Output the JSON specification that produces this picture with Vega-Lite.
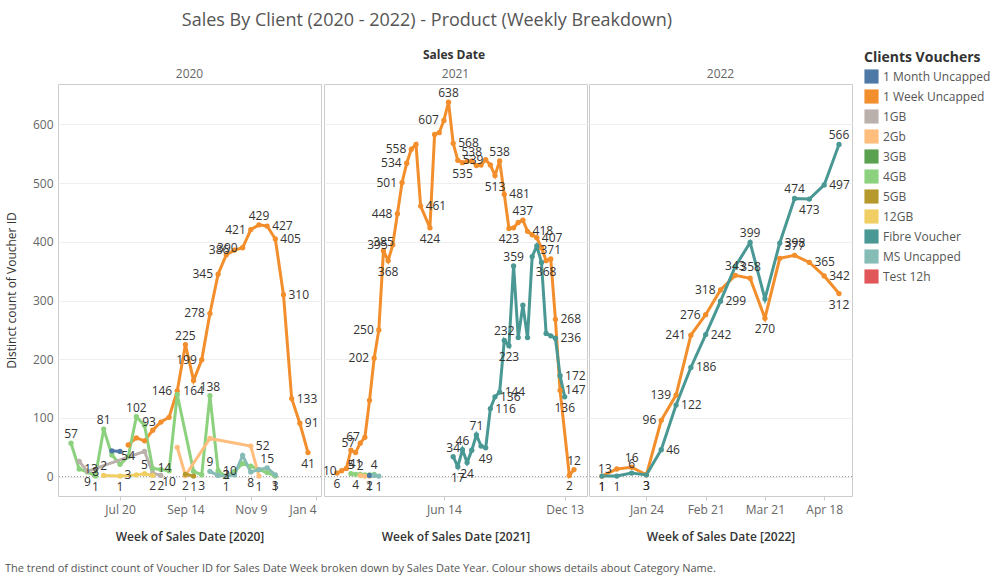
{
  "$schema": "https://vega.github.io/schema/vega-lite/v6.json",
  "padding": {"left": 4, "top": 11, "right": 5, "bottom": 2},
  "title": {"text": "The trend of distinct count of Voucher ID for Sales Date Week broken down by Sales Date Year. Colour shows details about Category Name.", "orient": "bottom", "anchor": "start", "frame": "bounds", "fontSize": 11, "fontWeight": "normal", "color": "#555", "offset": 20},
  "resolve": {"scale": {"color": "independent"}, "legend": {"color": "independent"}},
  "datasets": {
    "sales": [
      {"year":2020,"week":"2020-07-27","client":"1 Week Uncapped","count":54,"lab":1},
      {"year":2020,"week":"2020-08-03","client":"1 Week Uncapped","count":66,"lab":0},
      {"year":2020,"week":"2020-08-10","client":"1 Week Uncapped","count":61,"lab":0},
      {"year":2020,"week":"2020-08-17","client":"1 Week Uncapped","count":79,"lab":0},
      {"year":2020,"week":"2020-08-24","client":"1 Week Uncapped","count":93,"lab":1},
      {"year":2020,"week":"2020-08-31","client":"1 Week Uncapped","count":101,"lab":0},
      {"year":2020,"week":"2020-09-07","client":"1 Week Uncapped","count":146,"lab":1},
      {"year":2020,"week":"2020-09-14","client":"1 Week Uncapped","count":225,"lab":1},
      {"year":2020,"week":"2020-09-21","client":"1 Week Uncapped","count":164,"lab":1},
      {"year":2020,"week":"2020-09-28","client":"1 Week Uncapped","count":199,"lab":1},
      {"year":2020,"week":"2020-10-05","client":"1 Week Uncapped","count":278,"lab":1},
      {"year":2020,"week":"2020-10-12","client":"1 Week Uncapped","count":345,"lab":1},
      {"year":2020,"week":"2020-10-19","client":"1 Week Uncapped","count":378,"lab":0},
      {"year":2020,"week":"2020-10-26","client":"1 Week Uncapped","count":386,"lab":1},
      {"year":2020,"week":"2020-11-02","client":"1 Week Uncapped","count":390,"lab":1},
      {"year":2020,"week":"2020-11-09","client":"1 Week Uncapped","count":421,"lab":1},
      {"year":2020,"week":"2020-11-16","client":"1 Week Uncapped","count":429,"lab":1},
      {"year":2020,"week":"2020-11-23","client":"1 Week Uncapped","count":427,"lab":1},
      {"year":2020,"week":"2020-11-30","client":"1 Week Uncapped","count":405,"lab":1},
      {"year":2020,"week":"2020-12-07","client":"1 Week Uncapped","count":310,"lab":1},
      {"year":2020,"week":"2020-12-14","client":"1 Week Uncapped","count":133,"lab":1},
      {"year":2020,"week":"2020-12-21","client":"1 Week Uncapped","count":91,"lab":1},
      {"year":2020,"week":"2020-12-28","client":"1 Week Uncapped","count":41,"lab":1},
      {"year":2020,"week":"2020-06-08","client":"4GB","count":57,"lab":1},
      {"year":2020,"week":"2020-06-15","client":"4GB","count":13,"lab":1},
      {"year":2020,"week":"2020-06-22","client":"4GB","count":8,"lab":1},
      {"year":2020,"week":"2020-06-29","client":"4GB","count":1,"lab":1},
      {"year":2020,"week":"2020-07-06","client":"4GB","count":81,"lab":1},
      {"year":2020,"week":"2020-07-13","client":"4GB","count":37,"lab":0},
      {"year":2020,"week":"2020-07-20","client":"4GB","count":21,"lab":0},
      {"year":2020,"week":"2020-07-27","client":"4GB","count":34,"lab":0},
      {"year":2020,"week":"2020-08-03","client":"4GB","count":102,"lab":1},
      {"year":2020,"week":"2020-08-10","client":"4GB","count":87,"lab":0},
      {"year":2020,"week":"2020-08-17","client":"4GB","count":14,"lab":1},
      {"year":2020,"week":"2020-08-24","client":"4GB","count":12,"lab":0},
      {"year":2020,"week":"2020-08-31","client":"4GB","count":10,"lab":1},
      {"year":2020,"week":"2020-09-07","client":"4GB","count":140,"lab":0},
      {"year":2020,"week":"2020-09-21","client":"4GB","count":9,"lab":0},
      {"year":2020,"week":"2020-09-28","client":"4GB","count":3,"lab":1},
      {"year":2020,"week":"2020-10-05","client":"4GB","count":138,"lab":1},
      {"year":2020,"week":"2020-10-12","client":"4GB","count":10,"lab":1},
      {"year":2020,"week":"2020-10-19","client":"4GB","count":0,"lab":0},
      {"year":2020,"week":"2020-10-26","client":"4GB","count":9,"lab":0},
      {"year":2020,"week":"2020-11-02","client":"4GB","count":22,"lab":0},
      {"year":2020,"week":"2020-11-09","client":"4GB","count":18,"lab":0},
      {"year":2020,"week":"2020-11-16","client":"4GB","count":12,"lab":0},
      {"year":2020,"week":"2020-11-23","client":"4GB","count":7,"lab":0},
      {"year":2020,"week":"2020-11-30","client":"4GB","count":1,"lab":1},
      {"year":2020,"week":"2020-06-15","client":"1GB","count":26,"lab":0},
      {"year":2020,"week":"2020-06-22","client":"1GB","count":9,"lab":1},
      {"year":2020,"week":"2020-08-10","client":"1GB","count":43,"lab":0},
      {"year":2020,"week":"2020-08-17","client":"1GB","count":6,"lab":0},
      {"year":2020,"week":"2020-08-24","client":"1GB","count":2,"lab":1},
      {"year":2020,"week":"2020-07-13","client":"1 Month Uncapped","count":44,"lab":0},
      {"year":2020,"week":"2020-07-20","client":"1 Month Uncapped","count":43,"lab":0},
      {"year":2020,"week":"2020-07-06","client":"12GB","count":2,"lab":1},
      {"year":2020,"week":"2020-07-20","client":"12GB","count":1,"lab":1},
      {"year":2020,"week":"2020-08-03","client":"12GB","count":3,"lab":1},
      {"year":2020,"week":"2020-08-10","client":"12GB","count":5,"lab":1},
      {"year":2020,"week":"2020-08-17","client":"12GB","count":2,"lab":1},
      {"year":2020,"week":"2020-09-07","client":"2Gb","count":50,"lab":0},
      {"year":2020,"week":"2020-09-14","client":"2Gb","count":2,"lab":1},
      {"year":2020,"week":"2020-10-05","client":"2Gb","count":65,"lab":0},
      {"year":2020,"week":"2020-11-09","client":"2Gb","count":52,"lab":1},
      {"year":2020,"week":"2020-11-16","client":"2Gb","count":1,"lab":1},
      {"year":2020,"week":"2020-09-14","client":" 5GB","count":4,"lab":0},
      {"year":2020,"week":"2020-09-21","client":" 5GB","count":1,"lab":1},
      {"year":2020,"week":"2020-10-05","client":"MS Uncapped","count":9,"lab":1},
      {"year":2020,"week":"2020-10-12","client":"MS Uncapped","count":2,"lab":1},
      {"year":2020,"week":"2020-10-19","client":"MS Uncapped","count":1,"lab":1},
      {"year":2020,"week":"2020-10-26","client":"MS Uncapped","count":3,"lab":1},
      {"year":2020,"week":"2020-11-02","client":"MS Uncapped","count":36,"lab":0},
      {"year":2020,"week":"2020-11-09","client":"MS Uncapped","count":8,"lab":1},
      {"year":2020,"week":"2020-11-16","client":"MS Uncapped","count":12,"lab":0},
      {"year":2020,"week":"2020-11-23","client":"MS Uncapped","count":15,"lab":1},
      {"year":2020,"week":"2020-11-30","client":"MS Uncapped","count":3,"lab":1},

      {"year":2021,"week":"2021-01-04","client":"1 Week Uncapped","count":6,"lab":1},
      {"year":2021,"week":"2021-01-11","client":"1 Week Uncapped","count":10,"lab":1},
      {"year":2021,"week":"2021-01-18","client":"1 Week Uncapped","count":14,"lab":0},
      {"year":2021,"week":"2021-01-25","client":"1 Week Uncapped","count":45,"lab":0},
      {"year":2021,"week":"2021-02-01","client":"1 Week Uncapped","count":41,"lab":1},
      {"year":2021,"week":"2021-02-08","client":"1 Week Uncapped","count":57,"lab":1},
      {"year":2021,"week":"2021-02-15","client":"1 Week Uncapped","count":67,"lab":1},
      {"year":2021,"week":"2021-02-22","client":"1 Week Uncapped","count":130,"lab":0},
      {"year":2021,"week":"2021-03-01","client":"1 Week Uncapped","count":202,"lab":1},
      {"year":2021,"week":"2021-03-08","client":"1 Week Uncapped","count":250,"lab":1},
      {"year":2021,"week":"2021-03-15","client":"1 Week Uncapped","count":385,"lab":1},
      {"year":2021,"week":"2021-03-22","client":"1 Week Uncapped","count":368,"lab":1},
      {"year":2021,"week":"2021-03-29","client":"1 Week Uncapped","count":395,"lab":1},
      {"year":2021,"week":"2021-04-05","client":"1 Week Uncapped","count":448,"lab":1},
      {"year":2021,"week":"2021-04-12","client":"1 Week Uncapped","count":501,"lab":1},
      {"year":2021,"week":"2021-04-19","client":"1 Week Uncapped","count":534,"lab":1},
      {"year":2021,"week":"2021-04-26","client":"1 Week Uncapped","count":558,"lab":1},
      {"year":2021,"week":"2021-05-03","client":"1 Week Uncapped","count":566,"lab":0},
      {"year":2021,"week":"2021-05-10","client":"1 Week Uncapped","count":461,"lab":1},
      {"year":2021,"week":"2021-05-24","client":"1 Week Uncapped","count":424,"lab":1},
      {"year":2021,"week":"2021-05-31","client":"1 Week Uncapped","count":583,"lab":0},
      {"year":2021,"week":"2021-06-07","client":"1 Week Uncapped","count":586,"lab":0},
      {"year":2021,"week":"2021-06-14","client":"1 Week Uncapped","count":607,"lab":1},
      {"year":2021,"week":"2021-06-21","client":"1 Week Uncapped","count":638,"lab":1},
      {"year":2021,"week":"2021-06-28","client":"1 Week Uncapped","count":568,"lab":1},
      {"year":2021,"week":"2021-07-05","client":"1 Week Uncapped","count":539,"lab":1},
      {"year":2021,"week":"2021-07-12","client":"1 Week Uncapped","count":535,"lab":1},
      {"year":2021,"week":"2021-07-19","client":"1 Week Uncapped","count":537,"lab":0},
      {"year":2021,"week":"2021-07-26","client":"1 Week Uncapped","count":538,"lab":1},
      {"year":2021,"week":"2021-08-02","client":"1 Week Uncapped","count":530,"lab":0},
      {"year":2021,"week":"2021-08-09","client":"1 Week Uncapped","count":531,"lab":0},
      {"year":2021,"week":"2021-08-16","client":"1 Week Uncapped","count":540,"lab":0},
      {"year":2021,"week":"2021-08-23","client":"1 Week Uncapped","count":531,"lab":0},
      {"year":2021,"week":"2021-08-30","client":"1 Week Uncapped","count":513,"lab":1},
      {"year":2021,"week":"2021-09-06","client":"1 Week Uncapped","count":538,"lab":1},
      {"year":2021,"week":"2021-09-13","client":"1 Week Uncapped","count":481,"lab":1},
      {"year":2021,"week":"2021-09-20","client":"1 Week Uncapped","count":423,"lab":1},
      {"year":2021,"week":"2021-09-27","client":"1 Week Uncapped","count":424,"lab":0},
      {"year":2021,"week":"2021-10-04","client":"1 Week Uncapped","count":433,"lab":0},
      {"year":2021,"week":"2021-10-11","client":"1 Week Uncapped","count":437,"lab":1},
      {"year":2021,"week":"2021-10-18","client":"1 Week Uncapped","count":418,"lab":1},
      {"year":2021,"week":"2021-10-25","client":"1 Week Uncapped","count":412,"lab":0},
      {"year":2021,"week":"2021-11-01","client":"1 Week Uncapped","count":407,"lab":1},
      {"year":2021,"week":"2021-11-08","client":"1 Week Uncapped","count":390,"lab":0},
      {"year":2021,"week":"2021-11-15","client":"1 Week Uncapped","count":368,"lab":1},
      {"year":2021,"week":"2021-11-22","client":"1 Week Uncapped","count":371,"lab":1},
      {"year":2021,"week":"2021-11-29","client":"1 Week Uncapped","count":268,"lab":1},
      {"year":2021,"week":"2021-12-06","client":"1 Week Uncapped","count":147,"lab":1},
      {"year":2021,"week":"2021-12-20","client":"1 Week Uncapped","count":2,"lab":1},
      {"year":2021,"week":"2021-12-27","client":"1 Week Uncapped","count":12,"lab":1},
      {"year":2021,"week":"2021-06-28","client":"Fibre Voucher","count":34,"lab":1},
      {"year":2021,"week":"2021-07-05","client":"Fibre Voucher","count":17,"lab":1},
      {"year":2021,"week":"2021-07-12","client":"Fibre Voucher","count":46,"lab":1},
      {"year":2021,"week":"2021-07-19","client":"Fibre Voucher","count":24,"lab":1},
      {"year":2021,"week":"2021-07-26","client":"Fibre Voucher","count":45,"lab":0},
      {"year":2021,"week":"2021-08-02","client":"Fibre Voucher","count":71,"lab":1},
      {"year":2021,"week":"2021-08-09","client":"Fibre Voucher","count":52,"lab":0},
      {"year":2021,"week":"2021-08-16","client":"Fibre Voucher","count":49,"lab":1},
      {"year":2021,"week":"2021-08-23","client":"Fibre Voucher","count":116,"lab":1},
      {"year":2021,"week":"2021-08-30","client":"Fibre Voucher","count":136,"lab":1},
      {"year":2021,"week":"2021-09-06","client":"Fibre Voucher","count":144,"lab":1},
      {"year":2021,"week":"2021-09-13","client":"Fibre Voucher","count":232,"lab":1},
      {"year":2021,"week":"2021-09-20","client":"Fibre Voucher","count":223,"lab":1},
      {"year":2021,"week":"2021-09-27","client":"Fibre Voucher","count":359,"lab":1},
      {"year":2021,"week":"2021-10-04","client":"Fibre Voucher","count":237,"lab":0},
      {"year":2021,"week":"2021-10-11","client":"Fibre Voucher","count":292,"lab":0},
      {"year":2021,"week":"2021-10-18","client":"Fibre Voucher","count":237,"lab":0},
      {"year":2021,"week":"2021-10-25","client":"Fibre Voucher","count":375,"lab":0},
      {"year":2021,"week":"2021-11-01","client":"Fibre Voucher","count":393,"lab":0},
      {"year":2021,"week":"2021-11-08","client":"Fibre Voucher","count":365,"lab":0},
      {"year":2021,"week":"2021-11-15","client":"Fibre Voucher","count":244,"lab":0},
      {"year":2021,"week":"2021-11-22","client":"Fibre Voucher","count":240,"lab":0},
      {"year":2021,"week":"2021-11-29","client":"Fibre Voucher","count":236,"lab":1},
      {"year":2021,"week":"2021-12-06","client":"Fibre Voucher","count":172,"lab":1},
      {"year":2021,"week":"2021-12-13","client":"Fibre Voucher","count":136,"lab":1},
      {"year":2021,"week":"2021-01-25","client":"4GB","count":5,"lab":1},
      {"year":2021,"week":"2021-02-01","client":"4GB","count":4,"lab":1},
      {"year":2021,"week":"2021-02-08","client":"4GB","count":4,"lab":0},
      {"year":2021,"week":"2021-02-15","client":"4GB","count":3,"lab":0},
      {"year":2021,"week":"2021-02-22","client":"4GB","count":3,"lab":0},
      {"year":2021,"week":"2021-03-01","client":"4GB","count":4,"lab":1},
      {"year":2021,"week":"2021-02-08","client":"2Gb","count":2,"lab":1},
      {"year":2021,"week":"2021-02-15","client":"2Gb","count":1,"lab":0},
      {"year":2021,"week":"2021-02-22","client":"2Gb","count":1,"lab":1},
      {"year":2021,"week":"2021-02-22","client":"1 Month Uncapped","count":2,"lab":1},
      {"year":2021,"week":"2021-03-01","client":"MS Uncapped","count":2,"lab":0},
      {"year":2021,"week":"2021-03-08","client":"MS Uncapped","count":1,"lab":1},

      {"year":2022,"week":"2022-01-03","client":"1 Week Uncapped","count":1,"lab":1},
      {"year":2022,"week":"2022-01-10","client":"1 Week Uncapped","count":13,"lab":1},
      {"year":2022,"week":"2022-01-17","client":"1 Week Uncapped","count":16,"lab":1},
      {"year":2022,"week":"2022-01-24","client":"1 Week Uncapped","count":3,"lab":1},
      {"year":2022,"week":"2022-01-31","client":"1 Week Uncapped","count":96,"lab":1},
      {"year":2022,"week":"2022-02-07","client":"1 Week Uncapped","count":139,"lab":1},
      {"year":2022,"week":"2022-02-14","client":"1 Week Uncapped","count":241,"lab":1},
      {"year":2022,"week":"2022-02-21","client":"1 Week Uncapped","count":276,"lab":1},
      {"year":2022,"week":"2022-02-28","client":"1 Week Uncapped","count":318,"lab":1},
      {"year":2022,"week":"2022-03-07","client":"1 Week Uncapped","count":343,"lab":1},
      {"year":2022,"week":"2022-03-14","client":"1 Week Uncapped","count":338,"lab":0},
      {"year":2022,"week":"2022-03-21","client":"1 Week Uncapped","count":270,"lab":1},
      {"year":2022,"week":"2022-03-28","client":"1 Week Uncapped","count":372,"lab":0},
      {"year":2022,"week":"2022-04-04","client":"1 Week Uncapped","count":377,"lab":1},
      {"year":2022,"week":"2022-04-11","client":"1 Week Uncapped","count":365,"lab":1},
      {"year":2022,"week":"2022-04-18","client":"1 Week Uncapped","count":342,"lab":1},
      {"year":2022,"week":"2022-04-25","client":"1 Week Uncapped","count":312,"lab":1},
      {"year":2022,"week":"2022-01-03","client":"Fibre Voucher","count":1,"lab":1},
      {"year":2022,"week":"2022-01-10","client":"Fibre Voucher","count":1,"lab":1},
      {"year":2022,"week":"2022-01-17","client":"Fibre Voucher","count":6,"lab":1},
      {"year":2022,"week":"2022-01-24","client":"Fibre Voucher","count":3,"lab":1},
      {"year":2022,"week":"2022-01-31","client":"Fibre Voucher","count":46,"lab":1},
      {"year":2022,"week":"2022-02-07","client":"Fibre Voucher","count":122,"lab":1},
      {"year":2022,"week":"2022-02-14","client":"Fibre Voucher","count":186,"lab":1},
      {"year":2022,"week":"2022-02-21","client":"Fibre Voucher","count":242,"lab":1},
      {"year":2022,"week":"2022-02-28","client":"Fibre Voucher","count":299,"lab":1},
      {"year":2022,"week":"2022-03-07","client":"Fibre Voucher","count":358,"lab":1},
      {"year":2022,"week":"2022-03-14","client":"Fibre Voucher","count":399,"lab":1},
      {"year":2022,"week":"2022-03-21","client":"Fibre Voucher","count":303,"lab":0},
      {"year":2022,"week":"2022-03-28","client":"Fibre Voucher","count":398,"lab":1},
      {"year":2022,"week":"2022-04-04","client":"Fibre Voucher","count":474,"lab":1},
      {"year":2022,"week":"2022-04-11","client":"Fibre Voucher","count":473,"lab":1},
      {"year":2022,"week":"2022-04-18","client":"Fibre Voucher","count":497,"lab":1},
      {"year":2022,"week":"2022-04-25","client":"Fibre Voucher","count":566,"lab":1}
    ],
    "zero": [{"v": 0}]
  },
  "vconcat": [
    {
      "title": {"text": "Sales By Client (2020 - 2022) - Product (Weekly Breakdown)", "anchor": "middle", "fontSize": 18, "fontWeight": "normal", "color": "#555", "offset": 19, "dx": -71},
      "resolve": {"scale": {"color": "shared"}, "legend": {"color": "shared"}},
      "vconcat": [
        {
          "title": {"text": "Sales Date", "anchor": "middle", "fontSize": 12, "fontWeight": "bold", "color": "#333", "offset": 6, "dx": 25},
          "spacing": 0,
          "resolve": {"scale": {"color": "shared"}, "legend": {"color": "shared"}},
          "hconcat": [
            {
              "width": 263, "height": 412,
              "title": {"text": "2020", "fontSize": 12, "fontWeight": "normal", "color": "#666", "offset": 3},
              "layer": [
                {
                  "data": {"name": "zero"},
                  "mark": {"type": "rule", "strokeDash": [1, 2], "color": "#999", "strokeWidth": 1},
                  "encoding": {"y": {"field": "v", "type": "quantitative", "scale": {"domain": [-33, 669], "nice": false, "zero": false}}}
                },
                {
                  "data": {"name": "sales"},
                  "transform": [
                    {"filter": "datum.year == 2020"},
                    {"window": [{"op": "lag", "field": "count", "as": "prev"}, {"op": "lead", "field": "count", "as": "next"}], "groupby": ["client"], "sort": [{"field": "week"}]},
                    {"calculate": "((datum.prev == null || datum.count <= datum.prev) && (datum.next == null || datum.count <= datum.next)) ? 'below' : ((datum.prev == null || datum.count >= datum.prev) && (datum.next == null || datum.count >= datum.next)) ? 'above' : (datum.count > datum.prev ? (datum.client == 'Fibre Voucher' ? 'right' : 'left') : 'right')", "as": "pos"}
                  ],
                  "encoding": {
                    "x": {"field": "week", "type": "temporal", "scale": {"type": "utc", "padding": 13, "nice": false},
                      "axis": {"title": "Week of Sales Date [2020]", "format": "%b %-d", "values": [{"year": 2020, "month": 7, "date": 20, "utc": true}, {"year": 2020, "month": 9, "date": 14, "utc": true}, {"year": 2020, "month": 11, "date": 9, "utc": true}, {"year": 2021, "month": 1, "date": 4, "utc": true}], "labelFlush": 8}},
                    "y": {"field": "count", "type": "quantitative", "scale": {"domain": [-33, 669], "nice": false, "zero": false},
                      "axis": {"title": "Distinct count of Voucher ID", "values": [0, 100, 200, 300, 400, 500, 600], "ticks": false, "labelPadding": 5, "titlePadding": 14, "titleFontWeight": "normal"}},
                    "color": {"field": "client", "type": "nominal", "title": "Clients Vouchers",
                      "scale": {"domain": ["1 Month Uncapped", "1 Week Uncapped", "1GB", "2Gb", "3GB", "4GB", " 5GB", "12GB", "Fibre Voucher", "MS Uncapped", "Test 12h"], "range": ["#4E79A7", "#F28E2B", "#BAB0AC", "#FFBE7D", "#59A14F", "#8CD17D", "#B6992D", "#F1CE63", "#499894", "#86BCB6", "#E15759"]},
                      "legend": {"orient": "none", "legendX": 806, "legendY": -33}}
                  },
                  "layer": [
                    {"mark": {"type": "line", "strokeWidth": 3}},
                    {"mark": {"type": "point", "filled": true, "size": 28, "opacity": 1}},
                    {"transform": [{"filter": "datum.lab == 1 && datum.pos == 'above'"}], "mark": {"type": "text", "dy": -9, "fontSize": 12}, "encoding": {"text": {"field": "count"}, "color": {"value": "#333"}}},
                    {"transform": [{"filter": "datum.lab == 1 && datum.pos == 'below'"}], "mark": {"type": "text", "dy": 11, "fontSize": 12}, "encoding": {"text": {"field": "count"}, "color": {"value": "#333"}}},
                    {"transform": [{"filter": "datum.lab == 1 && datum.pos == 'left'"}], "mark": {"type": "text", "dx": -5, "align": "right", "fontSize": 12}, "encoding": {"text": {"field": "count"}, "color": {"value": "#333"}}},
                    {"transform": [{"filter": "datum.lab == 1 && datum.pos == 'right'"}], "mark": {"type": "text", "dx": 5, "align": "left", "fontSize": 12}, "encoding": {"text": {"field": "count"}, "color": {"value": "#333"}}}
                  ]
                }
              ]
            },
            {
              "width": 263, "height": 412,
              "title": {"text": "2021", "fontSize": 12, "fontWeight": "normal", "color": "#666", "offset": 3},
              "layer": [
                {
                  "data": {"name": "zero"},
                  "mark": {"type": "rule", "strokeDash": [1, 2], "color": "#999", "strokeWidth": 1},
                  "encoding": {"y": {"field": "v", "type": "quantitative", "scale": {"domain": [-33, 669], "nice": false, "zero": false}}}
                },
                {
                  "data": {"name": "sales"},
                  "transform": [
                    {"filter": "datum.year == 2021"},
                    {"window": [{"op": "lag", "field": "count", "as": "prev"}, {"op": "lead", "field": "count", "as": "next"}], "groupby": ["client"], "sort": [{"field": "week"}]},
                    {"calculate": "((datum.prev == null || datum.count <= datum.prev) && (datum.next == null || datum.count <= datum.next)) ? 'below' : ((datum.prev == null || datum.count >= datum.prev) && (datum.next == null || datum.count >= datum.next)) ? 'above' : (datum.count > datum.prev ? (datum.client == 'Fibre Voucher' ? 'right' : 'left') : 'right')", "as": "pos"}
                  ],
                  "encoding": {
                    "x": {"field": "week", "type": "temporal", "scale": {"type": "utc", "padding": 13, "nice": false},
                      "axis": {"title": "Week of Sales Date [2021]", "format": "%b %-d", "values": [{"year": 2021, "month": 6, "date": 14, "utc": true}, {"year": 2021, "month": 12, "date": 13, "utc": true}], "labelFlush": 8}},
                    "y": {"field": "count", "type": "quantitative", "scale": {"domain": [-33, 669], "nice": false, "zero": false},
                      "axis": {"title": null, "labels": false, "ticks": false, "values": [0, 100, 200, 300, 400, 500, 600]}},
                    "color": {"field": "client", "type": "nominal", "title": "Clients Vouchers",
                      "scale": {"domain": ["1 Month Uncapped", "1 Week Uncapped", "1GB", "2Gb", "3GB", "4GB", " 5GB", "12GB", "Fibre Voucher", "MS Uncapped", "Test 12h"], "range": ["#4E79A7", "#F28E2B", "#BAB0AC", "#FFBE7D", "#59A14F", "#8CD17D", "#B6992D", "#F1CE63", "#499894", "#86BCB6", "#E15759"]},
                      "legend": {"orient": "none", "legendX": 806, "legendY": -33}}
                  },
                  "layer": [
                    {"mark": {"type": "line", "strokeWidth": 3}},
                    {"mark": {"type": "point", "filled": true, "size": 28, "opacity": 1}},
                    {"transform": [{"filter": "datum.lab == 1 && datum.pos == 'above'"}], "mark": {"type": "text", "dy": -9, "fontSize": 12}, "encoding": {"text": {"field": "count"}, "color": {"value": "#333"}}},
                    {"transform": [{"filter": "datum.lab == 1 && datum.pos == 'below'"}], "mark": {"type": "text", "dy": 11, "fontSize": 12}, "encoding": {"text": {"field": "count"}, "color": {"value": "#333"}}},
                    {"transform": [{"filter": "datum.lab == 1 && datum.pos == 'left'"}], "mark": {"type": "text", "dx": -5, "align": "right", "fontSize": 12}, "encoding": {"text": {"field": "count"}, "color": {"value": "#333"}}},
                    {"transform": [{"filter": "datum.lab == 1 && datum.pos == 'right'"}], "mark": {"type": "text", "dx": 5, "align": "left", "fontSize": 12}, "encoding": {"text": {"field": "count"}, "color": {"value": "#333"}}}
                  ]
                }
              ]
            },
            {
              "width": 263, "height": 412,
              "title": {"text": "2022", "fontSize": 12, "fontWeight": "normal", "color": "#666", "offset": 3},
              "layer": [
                {
                  "data": {"name": "zero"},
                  "mark": {"type": "rule", "strokeDash": [1, 2], "color": "#999", "strokeWidth": 1},
                  "encoding": {"y": {"field": "v", "type": "quantitative", "scale": {"domain": [-33, 669], "nice": false, "zero": false}}}
                },
                {
                  "data": {"name": "sales"},
                  "transform": [
                    {"filter": "datum.year == 2022"},
                    {"window": [{"op": "lag", "field": "count", "as": "prev"}, {"op": "lead", "field": "count", "as": "next"}], "groupby": ["client"], "sort": [{"field": "week"}]},
                    {"calculate": "((datum.prev == null || datum.count <= datum.prev) && (datum.next == null || datum.count <= datum.next)) ? 'below' : ((datum.prev == null || datum.count >= datum.prev) && (datum.next == null || datum.count >= datum.next)) ? 'above' : (datum.count > datum.prev ? (datum.client == 'Fibre Voucher' ? 'right' : 'left') : 'right')", "as": "pos"}
                  ],
                  "encoding": {
                    "x": {"field": "week", "type": "temporal", "scale": {"type": "utc", "padding": 13, "nice": false},
                      "axis": {"title": "Week of Sales Date [2022]", "format": "%b %-d", "values": [{"year": 2022, "month": 1, "date": 24, "utc": true}, {"year": 2022, "month": 2, "date": 21, "utc": true}, {"year": 2022, "month": 3, "date": 21, "utc": true}, {"year": 2022, "month": 4, "date": 18, "utc": true}], "labelFlush": 8}},
                    "y": {"field": "count", "type": "quantitative", "scale": {"domain": [-33, 669], "nice": false, "zero": false},
                      "axis": {"title": null, "labels": false, "ticks": false, "values": [0, 100, 200, 300, 400, 500, 600]}},
                    "color": {"field": "client", "type": "nominal", "title": "Clients Vouchers",
                      "scale": {"domain": ["1 Month Uncapped", "1 Week Uncapped", "1GB", "2Gb", "3GB", "4GB", " 5GB", "12GB", "Fibre Voucher", "MS Uncapped", "Test 12h"], "range": ["#4E79A7", "#F28E2B", "#BAB0AC", "#FFBE7D", "#59A14F", "#8CD17D", "#B6992D", "#F1CE63", "#499894", "#86BCB6", "#E15759"]},
                      "legend": {"orient": "none", "legendX": 806, "legendY": -33}}
                  },
                  "layer": [
                    {"mark": {"type": "line", "strokeWidth": 3}},
                    {"mark": {"type": "point", "filled": true, "size": 28, "opacity": 1}},
                    {"transform": [{"filter": "datum.lab == 1 && datum.pos == 'above'"}], "mark": {"type": "text", "dy": -9, "fontSize": 12}, "encoding": {"text": {"field": "count"}, "color": {"value": "#333"}}},
                    {"transform": [{"filter": "datum.lab == 1 && datum.pos == 'below'"}], "mark": {"type": "text", "dy": 11, "fontSize": 12}, "encoding": {"text": {"field": "count"}, "color": {"value": "#333"}}},
                    {"transform": [{"filter": "datum.lab == 1 && datum.pos == 'left'"}], "mark": {"type": "text", "dx": -5, "align": "right", "fontSize": 12}, "encoding": {"text": {"field": "count"}, "color": {"value": "#333"}}},
                    {"transform": [{"filter": "datum.lab == 1 && datum.pos == 'right'"}], "mark": {"type": "text", "dx": 5, "align": "left", "fontSize": 12}, "encoding": {"text": {"field": "count"}, "color": {"value": "#333"}}}
                  ]
                }
              ]
            }
          ]
        }
      ]
    }
  ],
  "config": {
    "font": "Open Sans",
    "view": {"stroke": "#cccccc", "strokeWidth": 1},
    "concat": {"spacing": 0},
    "axis": {"labelFont": "Open Sans", "labelFontSize": 12, "labelColor": "#666", "titleFont": "Open Sans", "titleFontSize": 12, "titleColor": "#333", "titleFontWeight": 600, "gridColor": "#efefef", "domain": false, "tickColor": "#cccccc", "tickSize": 4, "labelPadding": 4, "titlePadding": 16},
    "axisX": {"grid": false},
    "legend": {"titleFont": "Open Sans", "titleFontSize": 14, "titleFontWeight": "bold", "titleColor": "#333", "labelFont": "Open Sans", "labelFontSize": 12, "labelColor": "#555", "symbolType": "square", "symbolSize": 200, "symbolStrokeWidth": 0, "rowPadding": 5, "titlePadding": 4},
    "text": {"font": "Open Sans"},
    "title": {"font": "Open Sans"}
  }
}
